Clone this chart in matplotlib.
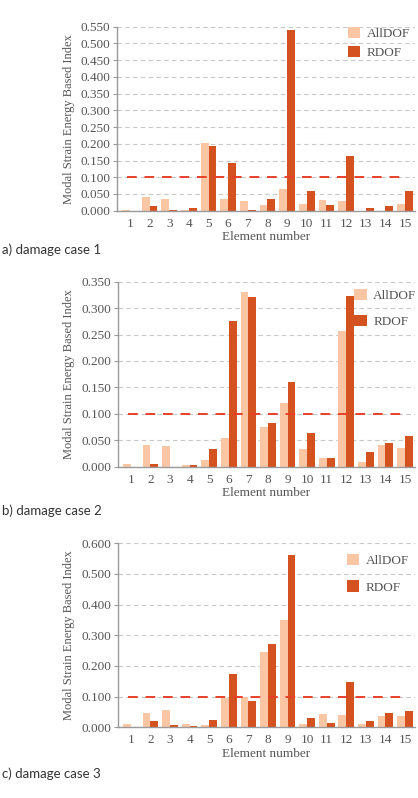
import numpy as np
import matplotlib.pyplot as plt

# element numbers and index values
elements = np.arange(1, 16)

alldof_1 = [0.003, 0.040, 0.035, 0.003, 0.201, 0.034, 0.029, 0.017, 0.064,
            0.020, 0.032, 0.030, 0.000, 0.000, 0.020]
rdof_1 = [0.000, 0.014, 0.001, 0.007, 0.192, 0.143, 0.003, 0.036, 0.539,
          0.058, 0.018, 0.165, 0.009, 0.013, 0.059]

alldof_2 = [0.005, 0.041, 0.040, 0.004, 0.013, 0.054, 0.331, 0.075, 0.121,
            0.033, 0.017, 0.257, 0.008, 0.042, 0.035]
rdof_2 = [0.000, 0.005, 0.000, 0.003, 0.033, 0.276, 0.322, 0.082, 0.160,
          0.064, 0.016, 0.323, 0.028, 0.044, 0.059]

alldof_3 = [0.010, 0.048, 0.057, 0.010, 0.007, 0.097, 0.100, 0.246, 0.350,
            0.011, 0.042, 0.040, 0.012, 0.037, 0.037]
rdof_3 = [0.000, 0.021, 0.008, 0.003, 0.023, 0.173, 0.085, 0.272, 0.561,
          0.030, 0.014, 0.149, 0.021, 0.048, 0.052]

threshold = 0.100
captions = ["a) damage case 1", "b) damage case 2", "c) damage case 3"]
y_tops = [0.550, 0.350, 0.600]
y_steps = [0.050, 0.050, 0.100]

light = "#fbc6a3"
dark = "#d4521f"
red = "#e8402a"
grey_txt = "#555555"

plt.rcParams["font.family"] = ["Liberation Serif", "DejaVu Serif"]

W, H = 418, 798
fig = plt.figure(figsize=(W / 100, H / 100), dpi=100)

# axes boxes in pixels: left, top, right, bottom
boxes = [(117, 26.7, 415, 210.7), (118, 281.7, 415, 466.7), (118, 543.3, 415, 727.3)]
legend_anchor = [(0.775, 1.0, 0.45), (0.795, 0.96, 0.95), (0.77, 0.942, 1.0)]
caption_y = [250, 511, 774]

data = [(alldof_1, rdof_1), (alldof_2, rdof_2), (alldof_3, rdof_3)]

for i, (a, r) in enumerate(data):
    l, t, rr, b = boxes[i]
    ax = fig.add_axes([l / W, 1 - b / H, (rr - l) / W, (b - t) / H])

    ax.bar(elements - 0.2, a, width=0.4, color=light, label="AllDOF", zorder=2)
    ax.bar(elements + 0.2, r, width=0.4, color=dark, label="RDOF", zorder=2)
    ax.hlines(threshold, 0.85, 15.0, colors=red, linestyles=(0, (5, 4)),
              linewidth=1.4, zorder=3)

    ax.set_xlim(0.34, 15.51)
    ax.set_ylim(0, y_tops[i])
    ax.set_yticks(np.arange(0, y_tops[i] + 1e-9, y_steps[i]))
    ax.set_yticklabels(["%.3f" % v for v in ax.get_yticks()])
    ax.set_xticks(elements)
    ax.yaxis.grid(True, color="#c8c8c8", linestyle=(0, (4, 3)), linewidth=0.8, zorder=0)

    for side in ["top", "right"]:
        ax.spines[side].set_visible(False)
    for side in ["left", "bottom"]:
        ax.spines[side].set_color("#9a9a9a")
        ax.spines[side].set_linewidth(1.0)

    ax.tick_params(axis="x", length=0, pad=5, labelsize=9.5, labelcolor=grey_txt)
    ax.tick_params(axis="y", length=3, width=0.8, color="#9a9a9a", pad=2,
                   labelsize=9.5, labelcolor=grey_txt)

    ax.set_xlabel("Element number", fontsize=9.5, color=grey_txt, labelpad=1)
    ax.set_ylabel("Modal Strain Energy Based Index", fontsize=9, color=grey_txt,
                  labelpad=4)

    fx, fy, sp = legend_anchor[i]
    ax.legend(loc="upper left", bbox_to_anchor=(fx, fy), frameon=False,
              borderpad=0, borderaxespad=0, handlelength=0.95, handleheight=0.95,
              handletextpad=0.5, labelspacing=sp, fontsize=9.5,
              labelcolor=grey_txt)

    fig.text(2 / W, 1 - caption_y[i] / H, captions[i], family="Lato",
             fontsize=9.5, color="#333333", va="center", ha="left")

fig.savefig("out.png", dpi=100)
